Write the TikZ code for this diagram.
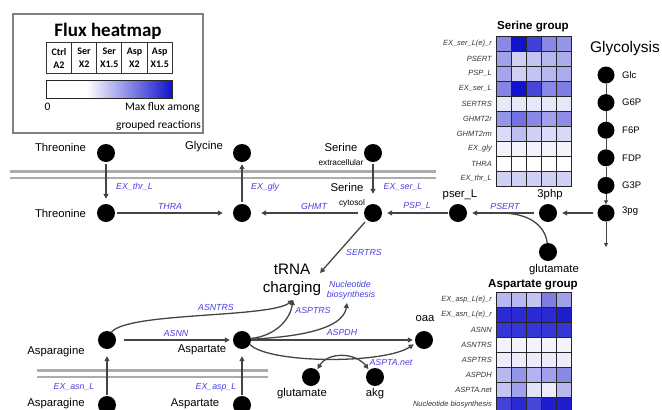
\documentclass[tikz,border=0pt]{standalone}
\usepackage{fontspec}
\setmainfont{Liberation Sans}
\newfontfamily\calib{Carlito}
\usetikzlibrary{arrows.meta}
\definecolor{fluxmax}{RGB}{18,18,205}
\definecolor{rxn}{RGB}{72,62,225}
\definecolor{edge}{RGB}{68,68,68}
\definecolor{membc}{RGB}{172,172,172}
\pgfdeclarehorizontalshading{fluxbar}{100bp}{color(0bp)=(white); color(25bp)=(white); color(41bp)=(white); color(75bp)=(fluxmax); color(100bp)=(fluxmax)}
\begin{document}
\begin{tikzpicture}[x=1pt,y=-1pt,
 dot/.style={circle,fill=black,minimum size=18pt,inner sep=0pt},
 gdot/.style={circle,fill=black,minimum size=17pt,inner sep=0pt},
 lab/.style={font=\fontsize{11.3}{13}\selectfont,inner sep=0pt},
 tiny/.style={font=\fontsize{8.3}{10}\selectfont,inner sep=0pt},
 glab/.style={font=\fontsize{9.5}{11}\selectfont,inner sep=0pt,anchor=west},
 rx/.style={font=\fontsize{8.8}{10.5}\selectfont\itshape,text=rxn,inner sep=0pt},
 hml/.style={font=\fontsize{7.5}{9}\selectfont\itshape,text=black!80,inner sep=0pt,anchor=east},
 htitle/.style={font=\fontsize{11.6}{13}\selectfont\bfseries,inner sep=0pt},
 arr/.style={draw=edge,line width=1.3pt,-{Triangle[length=5pt,width=5pt]}},
 biarr/.style={draw=edge,line width=1.3pt,{Triangle[length=5pt,width=5pt]}-{Triangle[length=5pt,width=5pt]}},
 ln/.style={draw=edge,line width=1.3pt},
 thinarr/.style={draw=edge,line width=1pt,-{Triangle[length=4pt,width=4pt]}},
 memb/.style={draw=membc,line width=2.4pt},
 cellb/.style={draw=black!85,line width=0.6pt},
 lg/.style={font=\calib\fontsize{11.5}{13}\selectfont,inner sep=0pt}
]
\useasboundingbox (0,0) rectangle (662,410);

% ---------- legend ----------
\node[draw=black!50,line width=1.4pt,minimum width=190pt,minimum height=119pt,inner sep=0pt] (legend) at (108,73.5) {};
\node[font=\calib\fontsize{19}{22}\selectfont\bfseries,inner sep=0pt] (ltitle) at (108,31) {Flux heatmap};
\foreach \t [count=\i from 0] in {{Ctrl\\A2},{Ser\\X2},{Ser\\X1.5},{Asp\\X2},{Asp\\X1.5}}
  \node[draw=black!80,line width=1pt,minimum width=25.2pt,minimum height=30.6pt,inner sep=0pt,align=center,font=\calib\fontsize{10}{13}\selectfont\bfseries] (hc\i) at (58.9+25.2*\i,58) {\t};
\shade[shading=fluxbar] (46,80) rectangle (172,98);
\draw[black!85,line width=1pt] (46,80) rectangle (172,98);
\node[lg] (l0) at (47.5,107) {0};
\node[lg,anchor=east] (lmax) at (200,108) {Max flux among};
\node[lg,anchor=east] (lgr) at (201,125) {grouped reactions};

% ---------- membranes ----------
\draw[memb] (10,171.5) -- (436,171.5);
\draw[memb] (10,178) -- (436,178);
\draw[memb] (37,370.5) -- (268,370.5);
\draw[memb] (37,377) -- (268,377);

% ---------- serine heatmap ----------
\node[htitle] (sgt) at (533,27) {Serine group};
\foreach \row [count=\i from 0] in {{50,100,80,50,45},{40,20,25,30,35},{38,20,25,30,35},{52,100,78,50,55},{10,10,10,10,10},{45,60,50,40,48},{15,28,20,15,17},{5,5,5,5,5},{0,0,0,0,0},{20,20,20,20,20}}{
  \foreach \v [count=\j from 0] in \row {
    \filldraw[fill=fluxmax!\v!white,cellb] (496.5+15*\j,36+15*\i) rectangle ++(15,15);
  }
}
\foreach \t [count=\i from 0] in {EX\_ser\_L(e)\_r,PSERT,PSP\_L,EX\_ser\_L,SERTRS,GHMT2r,GHMT2rm,EX\_gly,THRA,EX\_thr\_L}
  \node[hml] (sl\i) at (492,43.5+15*\i) {\t};

% ---------- aspartate heatmap ----------
\node[htitle] (agt) at (533,285) {Aspartate group};
\foreach \row [count=\i from 0] in {{30,30,25,55,40},{90,90,90,90,95},{85,85,85,85,85},{5,5,5,5,5},{8,8,8,8,8},{30,45,32,40,50},{25,40,12,8,30},{80,90,78,95,95}}{
  \foreach \v [count=\j from 0] in \row {
    \filldraw[fill=fluxmax!\v!white,cellb] (496.5+15*\j,292+15*\i) rectangle ++(15,15);
  }
}
\foreach \t [count=\i from 0] in {EX\_asp\_L(e)\_r,EX\_asn\_L(e)\_r,ASNN,ASNTRS,ASPTRS,ASPDH,ASPTA.net,Nucleotide biosynthesis}
  \node[hml] (al\i) at (492,299.5+15*\i) {\t};

% ---------- glycolysis ----------
\node[font=\fontsize{15.5}{18}\selectfont,inner sep=0pt] (glyco) at (625,48) {Glycolysis};
\foreach \n/\y/\t in {glc/75/Glc,g6p/102.6/G6P,f6p/130.2/F6P,fdp/157.8/FDP,g3p/185.4/G3P}{
  \node[gdot] (\n) at (606,\y) {};
  \node[glab] (\n-l) at (622,\y) {\t};
}
\node[gdot] (pg3) at (606,213) {};
\node[glab] (pg3-l) at (622,211) {3pg};
\draw[draw=edge,line width=1pt] (glc) -- (g6p) (g6p) -- (f6p) (f6p) -- (fdp) (fdp) -- (g3p);
\draw[thinarr] (g3p) -- (pg3);
\coordinate (gout) at (606,247);
\draw[thinarr] (pg3) -- (gout);

% ---------- upper metabolites ----------
\node[dot] (thrE) at (106,153) {};
\node[dot] (glyE) at (242,153) {};
\node[dot] (serE) at (373,153) {};
\node[dot] (thrC) at (106,213) {};
\node[dot] (glyC) at (242,213) {};
\node[dot] (serC) at (373,213) {};
\node[dot] (pser) at (458,213) {};
\node[dot] (php) at (548,213) {};
\node[dot] (gluU) at (548,252) {};

\node[lab] (thrE-l) at (60.5,147) {Threonine};
\node[lab] (thrC-l) at (60.5,213) {Threonine};
\node[lab] (glyE-l) at (204,147) {Glycine};
\node[lab] (serE-l) at (341,147) {Serine};
\node[tiny] (serE-s) at (341,163) {extracellular};
\node[lab] (serC-l) at (347,187) {Serine};
\node[tiny] (serC-s) at (352,203) {cytosol};
\node[lab] (pser-l) at (460,195) {pser\_L};
\node[lab] (php-l) at (550,195) {3php};
\node[lab] (gluU-l) at (554,270) {glutamate};

\draw[arr,shorten <=2pt,shorten >=5pt] (thrE) -- (thrC);
\draw[arr,shorten <=2pt,shorten >=10pt] (thrC) -- (glyC);
\draw[arr,shorten <=2pt,shorten >=2pt] (glyC) -- (glyE);
\draw[arr,shorten <=6pt,shorten >=10pt] (serC) -- (glyC);
\draw[arr,shorten <=2pt,shorten >=10pt] (serE) -- (serC);
\draw[arr,shorten <=1pt,shorten >=5pt] (pser) -- (serC);
\draw[arr,shorten <=5pt,shorten >=5pt] (php) -- (pser);
\draw[arr,shorten <=4pt,shorten >=5pt] (pg3) -- (php);
\coordinate (psertj) at (500,213);
\draw[ln] (gluU.95) .. controls (545,226) and (530,213) .. (psertj);

\node[rx,anchor=west] (r-exthr) at (116,187) {EX\_thr\_L};
\node[rx] (r-thra) at (170,206) {THRA};
\node[rx,anchor=west] (r-exgly) at (251,187) {EX\_gly};
\node[rx] (r-ghmt) at (314,206) {GHMT};
\node[rx] (r-exser) at (403,187) {EX\_ser\_L};
\node[rx] (r-psp) at (417,206) {PSP\_L};
\node[rx] (r-psert) at (505,206) {PSERT};
\node[rx] (r-sertrs) at (364,252) {SERTRS};

% ---------- tRNA charging ----------
\node[font=\fontsize{15.2}{18}\selectfont,inner sep=0pt,align=center] (trna) at (292,280) {tRNA\\charging};
\coordinate (trnaA) at (320,273);
\coordinate (trnaB) at (293,300);
\coordinate (nucT) at (347,303);
\draw[arr,shorten <=3pt] (serC) -- (trnaA);
\node[rx] (nuc1) at (350,284) {Nucleotide};
\node[rx] (nuc2) at (351,295.5) {biosynthesis};

% ---------- lower metabolites ----------
\node[dot] (asnC) at (107,340) {};
\node[dot] (aspC) at (242,340) {};
\node[dot] (asnE) at (107,405) {};
\node[dot] (aspE) at (242,405) {};
\node[dot] (oaa) at (424,340) {};
\node[dot] (gluL) at (311,377) {};
\node[dot] (akg) at (375,377) {};

\node[lab] (asnC-l) at (56,352) {Asparagine};
\node[lab] (aspC-l) at (202,350) {Aspartate};
\node[lab] (asnE-l) at (56,404) {Asparagine};
\node[lab] (aspE-l) at (195,404) {Aspartate};
\node[lab] (oaa-l) at (425,319) {oaa};
\node[lab] (gluL-l) at (302,394) {glutamate};
\node[lab] (akg-l) at (375,394) {akg};

\draw[arr,shorten <=1pt,shorten >=7pt] (asnE) -- (asnC);
\draw[arr,shorten <=1pt,shorten >=7pt] (aspE) -- (aspC);
\draw[arr,shorten <=8pt,shorten >=3pt] (asnC) -- (aspC);
\draw[arr,shorten >=2pt] (aspC) -- (oaa);
\draw[arr] (asnC.60) .. controls (128,312) and (270,318) .. (trnaB);
\draw[arr] (aspC.10) .. controls (275,336) and (290,320) .. (trnaB);
\draw[arr] (aspC.5) .. controls (295,337) and (343,330) .. (nucT);
\draw[arr,shorten >=2pt] (aspC.-30) .. controls (270,364) and (385,364) .. (oaa.200);
\draw[biarr,shorten <=1pt,shorten >=1pt] (gluL.50) .. controls (328,352) and (355,352) .. (akg.130);

\node[rx] (r-asntrs) at (216,307) {ASNTRS};
\node[rx] (r-asnn) at (176,333) {ASNN};
\node[rx] (r-asptrs) at (313,310) {ASPTRS};
\node[rx] (r-aspdh) at (342,332) {ASPDH};
\node[rx] (r-aspta) at (391,362) {ASPTA.net};
\node[rx] (r-exasn) at (74,387) {EX\_asn\_L};
\node[rx] (r-exasp) at (216,387) {EX\_asp\_L};
\end{tikzpicture}
\end{document}
